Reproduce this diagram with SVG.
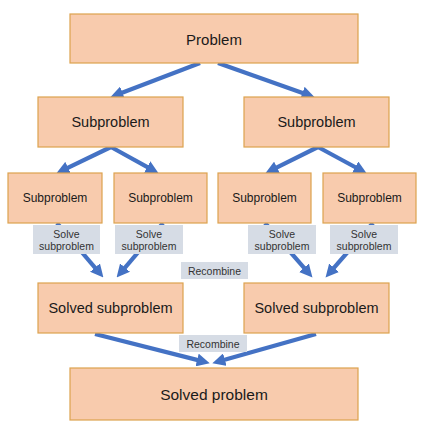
<svg xmlns="http://www.w3.org/2000/svg" width="424" height="423" viewBox="0 0 424 423">
<defs>
<marker id="ah" viewBox="0 0 10 10" refX="3" refY="5" markerWidth="13" markerHeight="13" markerUnits="userSpaceOnUse" orient="auto">
<path d="M0,0 L10,5 L0,10 z" fill="#4472C4"/>
</marker>
<style>
.box{fill:#F8CBAD;stroke:#DDA24E;stroke-width:1.2}
.lbl{fill:#D6DCE5}
.t{font-family:"Liberation Sans",Arial,sans-serif;fill:#1a1a1a;text-anchor:middle}
.t15{font-size:15px}
.t14{font-size:14.5px}
.t12{font-size:12px}
.t10{font-size:10.5px;fill:#333}
.c line{stroke:#4472C4;stroke-width:4.2;marker-end:url(#ah)}
</style>
</defs>
<rect width="424" height="423" fill="#fff"/>
<g id="connectors" class="c">
<line x1="200" y1="63" x2="118.8" y2="94"/>
<line x1="218" y1="63" x2="306.1" y2="94.2"/>
<line x1="111" y1="147" x2="64.6" y2="169.4"/>
<line x1="111" y1="147" x2="150.6" y2="168.9"/>
<line x1="318" y1="147" x2="273.5" y2="169.2"/>
<line x1="318" y1="147" x2="358.6" y2="169"/>
<line x1="57" y1="223" x2="97.5" y2="270.6"/>
<line x1="163" y1="223" x2="122.5" y2="270.6"/>
<line x1="265" y1="223" x2="306.5" y2="270.7"/>
<line x1="373" y1="223" x2="331.5" y2="270.7"/>
<line x1="95" y1="334" x2="200.9" y2="360.9"/>
<line x1="316" y1="334" x2="221.1" y2="360.7"/>
</g>
<g id="problem"><rect class="box" x="70" y="14" width="288" height="49"/><text class="t t15" x="214" y="45">Problem</text></g>
<g id="sub-l"><rect class="box" x="38" y="97" width="145" height="50"/><text class="t t14" x="110.5" y="127">Subproblem</text></g>
<g id="sub-r"><rect class="box" x="244" y="97" width="145" height="50"/><text class="t t14" x="316.5" y="127">Subproblem</text></g>
<g id="sub-1"><rect class="box" x="8" y="173" width="94" height="50"/><text class="t t12" x="55" y="202">Subproblem</text></g>
<g id="sub-2"><rect class="box" x="114" y="173" width="93" height="50"/><text class="t t12" x="160.5" y="202">Subproblem</text></g>
<g id="sub-3"><rect class="box" x="218" y="173" width="93" height="50"/><text class="t t12" x="264.5" y="202">Subproblem</text></g>
<g id="sub-4"><rect class="box" x="323" y="173" width="93" height="50"/><text class="t t12" x="369.5" y="202">Subproblem</text></g>
<g id="solve-1"><rect class="lbl" x="33" y="225" width="67" height="29"/><text class="t t10" x="66.5" y="238">Solve</text><text class="t t10" x="66.5" y="249.5">subproblem</text></g>
<g id="solve-2"><rect class="lbl" x="115" y="225" width="68" height="29"/><text class="t t10" x="149" y="238">Solve</text><text class="t t10" x="149" y="249.5">subproblem</text></g>
<g id="solve-3"><rect class="lbl" x="248" y="225" width="68" height="29"/><text class="t t10" x="282" y="238">Solve</text><text class="t t10" x="282" y="249.5">subproblem</text></g>
<g id="solve-4"><rect class="lbl" x="330" y="225" width="68" height="29"/><text class="t t10" x="364" y="238">Solve</text><text class="t t10" x="364" y="249.5">subproblem</text></g>
<g id="recombine-1"><rect class="lbl" x="181" y="262" width="67" height="17"/><text class="t t10" x="214.5" y="274.5">Recombine</text></g>
<g id="solved-l"><rect class="box" x="38" y="283" width="145" height="50"/><text class="t t14" x="110.5" y="313">Solved subproblem</text></g>
<g id="solved-r"><rect class="box" x="244" y="283" width="145" height="50"/><text class="t t14" x="316.5" y="313">Solved subproblem</text></g>
<g id="recombine-2"><rect class="lbl" x="179" y="335" width="68" height="17"/><text class="t t10" x="213" y="347.5">Recombine</text></g>
<g id="solved"><rect class="box" x="70" y="368" width="288" height="52"/><text class="t t15" x="214" y="400" style="font-size:15.5px">Solved problem</text></g>
</svg>
